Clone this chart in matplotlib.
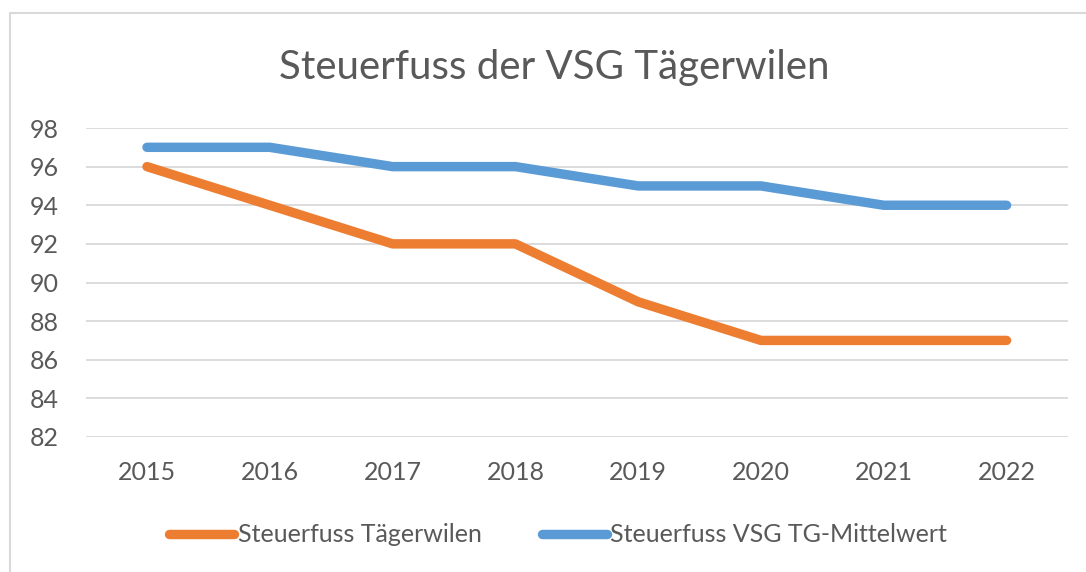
import matplotlib
matplotlib.use("Agg")
import matplotlib.pyplot as plt
from matplotlib.patches import Rectangle
from matplotlib.lines import Line2D

years = ["2015", "2016", "2017", "2018", "2019", "2020", "2021", "2022"]
taegerwilen = [96, 94, 92, 92, 89, 87, 87, 87]
vsg_mittel = [97, 97, 96, 96, 95, 95, 94, 94]
yticks = [82, 84, 86, 88, 90, 92, 94, 96, 98]

ORANGE = "#ED7D31"
BLUE = "#5B9BD5"
TXT = "#595959"
FONT = "Lato"

W, H = 1086, 572
fig = plt.figure(figsize=(W / 100, H / 100), dpi=100)
fig.patch.set_facecolor("white")

# outer chart border
fig.add_artist(Rectangle((10 / W, -0.1), 1.2, 1.1 - 13 / H, transform=fig.transFigure,
                         fill=False, edgecolor="#D9D9D9", linewidth=1.5))

left, right = 85.6 / W, 1068 / W
bottom, top = 1 - 437 / H, 1 - 128 / H
ax = fig.add_axes([left, bottom, right - left, top - bottom])

x = list(range(len(years)))
ax.plot(x, taegerwilen, color=ORANGE, lw=6.8, solid_capstyle="round", solid_joinstyle="round", zorder=3)
ax.plot(x, vsg_mittel, color=BLUE, lw=6.8, solid_capstyle="round", solid_joinstyle="round", zorder=3)

ax.set_xlim(-0.5, len(years) - 0.5)
ax.set_ylim(82, 98)
ax.set_yticks(yticks)
ax.set_yticklabels([str(v) for v in yticks], fontsize=18, color=TXT, family=FONT)
ax.set_xticks(x)
ax.set_xticklabels(years, fontsize=18, color=TXT, family=FONT)
ax.tick_params(axis="both", length=0)
ax.tick_params(axis="y", pad=19.5)
ax.tick_params(axis="x", pad=17)
ax.grid(axis="y", color="#D9D9D9", lw=1.3)
ax.set_axisbelow(True)
for s in ax.spines.values():
    s.set_visible(False)

fig.text(554 / W, 1 - 68 / H, "Steuerfuss der VSG Tägerwilen", ha="center", va="center",
         fontsize=29, color=TXT, family=FONT)

handles = [Line2D([], [], color=ORANGE, lw=6.8, solid_capstyle="round"),
           Line2D([], [], color=BLUE, lw=6.8, solid_capstyle="round")]
fig.legend(handles, ["Steuerfuss Tägerwilen", "Steuerfuss VSG TG-Mittelwert"],
           loc="center", bbox_to_anchor=(558 / W, 1 - 535 / H), ncol=2, frameon=False,
           handlelength=2.6, handletextpad=0.15, columnspacing=2.4,
           prop={"family": FONT, "size": 18}, labelcolor=TXT)

fig.savefig("out.png", dpi=100)
